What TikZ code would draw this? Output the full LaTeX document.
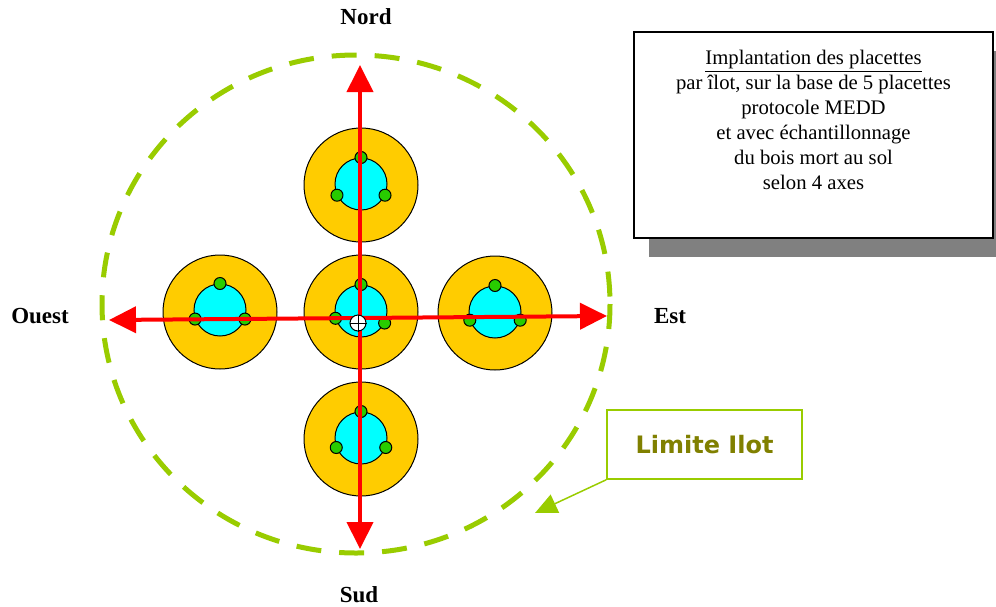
\documentclass[tikz,border=0pt]{standalone}
\usepackage{fontspec}
\setmainfont{Liberation Serif}
\newfontfamily\limitefont{DejaVu Sans}
\usepackage{tikz}
\usetikzlibrary{arrows.meta,positioning,shadows}
\definecolor{plotorange}{RGB}{255,204,0}
\definecolor{corecyan}{RGB}{0,255,255}
\definecolor{piquetgreen}{RGB}{40,204,0}
\definecolor{ilotgreen}{RGB}{153,204,0}
\definecolor{ilotolive}{RGB}{128,128,0}
\definecolor{shadowgrey}{RGB}{128,128,128}

\begin{document}
\begin{tikzpicture}[x=1pt,y=-1pt,>={Triangle[width=26pt,length=27pt]},
	plot/.style={circle, draw, line width=1pt, fill=plotorange, minimum size=114pt, inner sep=0pt},
	core/.style={circle, draw, line width=1pt, fill=corecyan, minimum size=52pt, inner sep=0pt},
	piquet/.style={circle, draw, line width=1pt, fill=piquetgreen, minimum size=12pt, inner sep=0pt},
	axe/.style={->, red, line width=4pt},
	cardinal/.style={inner sep=1pt, font=\fontsize{23}{26}\selectfont\bfseries}]
				\useasboundingbox (0,0) rectangle (996,606);
				
				% limite de l'ilot
				\draw[ilotgreen, line width=5pt, dash pattern=on 25pt off 18pt] (356,304) ellipse [x radius=254, y radius=249];
				
				% placettes
				\node[plot] (pN) at (361,185) {};
				\node[plot] (pO) at (220,312) {};
				\node[plot] (pC) at (361,312) {};
				\node[plot] (pE) at (495,313) {};
				\node[plot] (pS) at (361,439) {};
				
				\node[core] (cN) at (361,184) {};
				\node[core] (cO) at (220,310) {};
				\node[core] (cC) at (361,311) {};
				\node[core] (cE) at (495,312) {};
				\node[core] (cS) at (361,438) {};
				
				\node[piquet] (dN1) at (cN.90) {};
				\node[piquet] (dN2) at (cN.205) {};
				\node[piquet] (dN3) at (cN.335) {};
				\node[piquet] (dO1) at (cO.90) {};
				\node[piquet] (dO2) at (cO.200) {};
				\node[piquet] (dO3) at (cO.340) {};
				\node[piquet] (dC1) at (cC.90) {};
				\node[piquet] (dC2) at (cC.196) {};
				\node[piquet] (dC3) at (cC.333) {};
				\node[piquet] (dE1) at (cE.90) {};
				\node[piquet] (dE2) at (cE.198) {};
				\node[piquet] (dE3) at (cE.342) {};
				\node[piquet] (dS1) at (cS.90) {};
				\node[piquet] (dS2) at (cS.201) {};
				\node[piquet] (dS3) at (cS.339) {};
				
				% axes
				\coordinate (centre) at (360,318);
				\coordinate (nordtip) at (360,65);
				\coordinate (sudtip) at (360,549);
				\coordinate (ouesttip) at (109,320);
				\coordinate (esttip) at (607,316);
				\draw[axe] (centre) -- (nordtip);
				\draw[axe] (centre) -- (sudtip);
				\draw[axe] (centre) -- (ouesttip);
				\draw[axe] (centre) -- (esttip);
				
				\node[circle, draw, line width=1pt, fill=white, minimum size=16pt, inner sep=0pt] (origine) at (358,323) {};
				\draw[line width=1pt] (origine.north) -- (origine.south) (origine.west) -- (origine.east);
				
				\node[cardinal] (nord) at (366,17) {Nord};
				\node[cardinal] (sud) at (359,595) {Sud};
				\node[cardinal] (ouest) at (40,316) {Ouest};
				\node[cardinal] (est) at (670,316) {Est};
				
				% cartouche
				\node[draw, line width=1.2pt, fill=white, minimum width=359pt, minimum height=206pt,
				drop shadow={shadow xshift=15pt, shadow yshift=-19pt, fill=shadowgrey, opacity=1}] (info) at (813.5,135) {};
				\node[anchor=north, align=center, inner sep=0pt, font=\fontsize{20.7}{25}\selectfont] (infotext) [below=19pt of info.north] {\underline{Implantation des placettes}\\par îlot, sur la base de 5 placettes\\protocole MEDD\\et avec échantillonnage\\du bois mort au sol\\selon 4 axes};
				
				\node[draw=ilotgreen, line width=1.5pt, minimum width=195pt, minimum height=69pt, text=ilotolive,
				font=\limitefont\bfseries\fontsize{24}{28}\selectfont] (limite) at (704.5,444.5) {Limite Ilot};
				\coordinate (limitetip) at (535,513);
				\draw[ilotgreen, line width=1.5pt, -{Triangle[width=20pt,length=22pt]}] (limite.south west) -- (limitetip);
				
				\end{tikzpicture}
\end{document}
